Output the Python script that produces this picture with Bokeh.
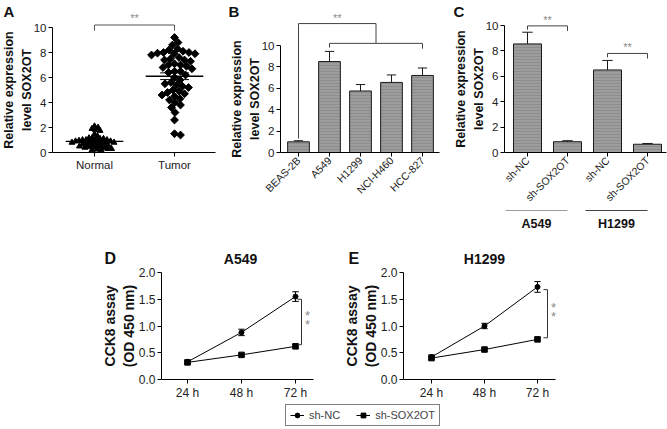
import math
import numpy as np
from bokeh.plotting import figure
from bokeh.models import (Range1d, FixedTicker, Legend, LegendItem, Spacer,
                          NumeralTickFormatter)
from bokeh.layouts import row, column
from bokeh.core.properties import value
from bokeh.embed import file_html
from bokeh.resources import INLINE

FONT = "Liberation Sans"

# ---------------- data ----------------
tissue_groups = ["Normal", "Tumor"]
normal_vals = [2.1, 2.0, 1.9, 1.8, 1.75, 1.45, 1.3, 1.2, 1.15, 1.1, 1.1, 1.05, 1.0, 1.0,
               1.0, 0.95, 0.9, 0.9, 0.9, 0.85, 0.85, 0.8, 0.8, 0.8, 0.75, 0.7, 0.7, 0.65,
               0.6, 0.6, 0.55, 0.5, 0.5, 0.45, 0.4, 0.4, 0.35, 0.3, 0.3, 0.25, 0.2, 0.2]
tumor_vals = [9.2, 8.8, 8.6, 8.3, 8.2, 8.1, 8.0, 8.0, 7.95, 7.9, 7.9, 7.8, 7.6, 7.5, 7.4,
              7.4, 7.3, 7.1, 7.0, 7.0, 6.9, 6.8, 6.7, 6.5, 6.5, 6.4, 6.2, 6.0, 5.8, 5.6,
              5.5, 5.4, 5.3, 5.2, 5.0, 4.9, 4.8, 4.7, 4.6, 4.5, 4.3, 4.2, 4.0, 3.8, 3.6,
              3.2, 2.6, 1.5, 1.4]

cell_lines = ["BEAS-2B", "A549", "H1299", "NCI-H460", "HCC-827"]
cell_expr = [1.0, 8.5, 5.75, 6.55, 7.2]
cell_err = [0.1, 0.95, 0.6, 0.7, 0.7]

kd_labels = ["sh-NC", "sh-SOX2OT", "sh-NC", "sh-SOX2OT"]
kd_groups = ["A549", "H1299"]
kd_expr = [8.55, 0.85, 6.5, 0.65]
kd_err = [0.92, 0.08, 0.75, 0.06]

times = ["24 h", "48 h", "72 h"]
a549_nc = [0.33, 0.88, 1.55]
a549_nc_err = [0.03, 0.06, 0.09]
a549_sh = [0.32, 0.46, 0.62]
a549_sh_err = [0.02, 0.02, 0.04]
h1299_nc = [0.42, 1.00, 1.73]
h1299_nc_err = [0.04, 0.05, 0.10]
h1299_sh = [0.40, 0.56, 0.75]
h1299_sh_err = [0.03, 0.03, 0.04]

series_names = ["sh-NC", "sh-SOX2OT"]
panel_letters = ["A", "B", "C", "D", "E"]

# ---------------- helpers ----------------
BAR_FILL = "#9d9d9d"
DARK = "#1a1a1a"
STAR = "#8a8a8a"


class Geo:
    """Pixel <-> data mapping of one panel (the frame covers the whole figure)."""

    def __init__(self, W, H, ppx, ppy, anchor_px, anchor_x, zero_py):
        self.W, self.H = W, H
        self.ppx, self.ppy = ppx, ppy
        self.x0 = anchor_x - anchor_px / ppx
        self.zero_py = zero_py

    def X(self, px):
        return self.x0 + px / self.ppx

    def Y(self, py):
        return (self.zero_py - py) / self.ppy


def make_fig(g, axis_px, axis_end_px, ytop):
    p = figure(width=g.W, height=g.H, x_range=Range1d(g.X(0), g.X(g.W)),
               y_range=Range1d(g.Y(g.H), g.Y(0)), min_border_left=0, min_border_top=0,
               min_border_right=0, min_border_bottom=0, output_backend="svg",
               toolbar_location=None)
    p.outline_line_color = None
    p.grid.visible = False
    p.background_fill_color = "white"
    p.border_fill_color = "white"
    for ax in (p.xaxis[0], p.yaxis[0]):
        ax.axis_line_color = "black"
        ax.axis_line_width = 1
        ax.major_tick_line_color = "black"
        ax.major_tick_in = 0
        ax.major_tick_out = 4
        ax.minor_tick_line_color = None
        ax.major_label_text_font = FONT
        ax.major_label_text_font_size = "11.5px"
        ax.major_label_text_color = "#222222"
        ax.major_label_standoff = 2
        ax.axis_label_text_font = FONT
        ax.axis_label_text_font_style = "bold"
        ax.axis_label_text_color = "#111111"
        ax.axis_label_standoff = 1
    p.yaxis.fixed_location = g.X(axis_px)
    p.xaxis.fixed_location = 0
    p.yaxis.bounds = (0, ytop)
    p.xaxis.bounds = (g.X(axis_px), g.X(axis_end_px))
    return p


def add_text(p, x, y, text, size, bold=False, color="#111111", align="center"):
    p.text(x=[x], y=[y], text=[text], text_font=value(FONT), text_font_size=size,
           text_font_style="bold" if bold else "normal", text_color=color,
           text_align=align, text_baseline="middle")


def swarm_offsets(vals, ppy, ppx, dia):
    placed = []
    offs = []
    for v in vals:
        yp = v * ppy
        k = 0
        while True:
            step = ((k + 1) // 2) * 0.5
            xp = step if k % 2 == 1 else -step
            if all((xp - qx) ** 2 + (yp - qy) ** 2 >= dia * dia for qx, qy in placed):
                break
            k += 1
        placed.append((xp, yp))
        offs.append(xp / ppx)
    return offs


def up_errorbars(p, xs, tops, errs, cap):
    ends = [t + e for t, e in zip(tops, errs)]
    p.segment(x0=xs, y0=tops, x1=xs, y1=ends, line_color=DARK, line_width=1)
    p.segment(x0=[x - cap for x in xs], y0=ends, x1=[x + cap for x in xs], y1=ends,
              line_color=DARK, line_width=1)


TOP_YLABEL = "Relative expression\nlevel SOX2OT"


def top_yaxis(p):
    p.yaxis.ticker = FixedTicker(ticks=[0, 2, 4, 6, 8, 10])
    p.yaxis.axis_label = TOP_YLABEL
    p.yaxis.axis_label_text_font_size = "12.5px"
    p.yaxis.axis_label_text_line_height = 1.3
    p.yaxis.axis_label_standoff = -3


TOP_H = 232
ZERO_TOP = 152

# ---------------- panel A ----------------
gA = Geo(226, TOP_H, 80, 12.5, 94, 1, ZERO_TOP)
pA = make_fig(gA, 52, 215, 10)
n_off = swarm_offsets(normal_vals, gA.ppy, gA.ppx, 3.5)
t_off = swarm_offsets(tumor_vals, gA.ppy, gA.ppx, 5.9)
pA.scatter(x=[1 + o for o in n_off], y=normal_vals, marker="triangle", size=6,
           color="black")
pA.scatter(x=[2 + o for o in t_off], y=tumor_vals, marker="square", angle=math.pi / 4,
           size=5.5, color="black")
means = [float(np.mean(normal_vals)), float(np.mean(tumor_vals))]
sems = [float(np.std(normal_vals, ddof=1) / math.sqrt(len(normal_vals))),
        float(np.std(tumor_vals, ddof=1) / math.sqrt(len(tumor_vals)))]
gx = [1, 2]
pA.segment(x0=[g - 0.36 for g in gx], y0=means, x1=[g + 0.36 for g in gx], y1=means,
           line_color="black", line_width=1.3)
pA.segment(x0=gx, y0=[m - s for m, s in zip(means, sems)], x1=gx,
           y1=[m + s for m, s in zip(means, sems)], line_color="black", line_width=1)
for sign in (-1, 1):
    pA.segment(x0=[g - 0.18 for g in gx], y0=[m + sign * s for m, s in zip(means, sems)],
               x1=[g + 0.18 for g in gx], y1=[m + sign * s for m, s in zip(means, sems)],
               line_color="black", line_width=1)
br_y = max(tumor_vals) + 1.0
pA.multi_line(xs=[[1, 1, 2, 2]], ys=[[br_y - 0.45, br_y, br_y, br_y - 0.45]],
              line_color="#555555", line_width=1)
add_text(pA, 1.5, br_y + 0.55, "**", "11px", color=STAR)
pA.xaxis.ticker = FixedTicker(ticks=gx)
pA.xaxis.major_label_overrides = {1: tissue_groups[0], 2: tissue_groups[1]}
top_yaxis(pA)
add_text(pA, gA.X(3), gA.Y(11), panel_letters[0], "15px", bold=True, align="left")

# ---------------- panel B ----------------
gB = Geo(222, TOP_H, 31, 10.7, 72, 1, ZERO_TOP)
pB = make_fig(gB, 54, 213, 10)
bx = list(range(1, len(cell_lines) + 1))
pB.vbar(x=bx, top=cell_expr, width=0.7, fill_color=BAR_FILL, line_color=DARK,
        line_width=1, hatch_pattern="horizontal_line", hatch_scale=3,
        hatch_color="#7a7a7a", hatch_alpha=0.45, hatch_weight=1)
up_errorbars(pB, bx, cell_expr, cell_err, 0.15)
top_b = max(e + r for e, r in zip(cell_expr, cell_err)) + 2.6
low_b = max(e + r for e, r in zip(cell_expr, cell_err)) + 0.75
pB.multi_line(xs=[[1, 1, 3.5, 3.5], [2, 2, bx[-1], bx[-1]]],
              ys=[[cell_expr[0] + 0.3, top_b, top_b, low_b],
                  [low_b - 0.4, low_b, low_b, low_b - 0.5]],
              line_color="#444444", line_width=1)
add_text(pB, 2.25, top_b + 0.55, "**", "11px", color=STAR)
pB.xaxis.ticker = FixedTicker(ticks=bx)
pB.xaxis.major_label_overrides = {i: n for i, n in zip(bx, cell_lines)}
pB.xaxis.major_label_orientation = math.pi / 4
pB.xaxis.major_label_text_font_size = "10.5px"
top_yaxis(pB)
add_text(pB, gB.X(2), gB.Y(11), panel_letters[1], "15px", bold=True, align="left")

# ---------------- panel C ----------------
gC = Geo(219, TOP_H, 40, 12.7, 79, 1, ZERO_TOP)
pC = make_fig(gC, 56, 218, 10)
cx = list(range(1, len(kd_labels) + 1))
pC.vbar(x=cx, top=kd_expr, width=0.7, fill_color=BAR_FILL, line_color=DARK,
        line_width=1, hatch_pattern="horizontal_line", hatch_scale=3,
        hatch_color="#7a7a7a", hatch_alpha=0.45, hatch_weight=1)
up_errorbars(pC, cx, kd_expr, kd_err, 0.13)
for k in range(2):
    i0, i1 = 2 * k + 1, 2 * k + 2
    yb = kd_expr[i0 - 1] + kd_err[i0 - 1] + (0.5 if k == 0 else 0.55)
    pC.multi_line(xs=[[i0, i0, i1, i1]], ys=[[yb - 0.3, yb, yb, yb - 0.4]],
                  line_color="#444444", line_width=1)
    add_text(pC, (i0 + i1) / 2, yb + 0.5, "**", "11px", color=STAR)
pC.xaxis.ticker = FixedTicker(ticks=cx)
pC.xaxis.major_label_overrides = {i: n for i, n in zip(cx, kd_labels)}
pC.xaxis.major_label_orientation = math.pi / 4
pC.xaxis.major_label_text_font_size = "10.5px"
top_yaxis(pC)
add_text(pC, gC.X(5), gC.Y(11), panel_letters[2], "15px", bold=True, align="left")
# cell-line group labels under the knock-down bars
g_start = [cx[0] - 0.55, cx[2] - 0.55]
g_end = [cx[1], cx[3]]
pC.segment(x0=g_start, y0=[gC.Y(210)] * 2, x1=g_end, y1=[gC.Y(210)] * 2,
           line_color=["#9a9a9a", "#444444"], line_width=1)
pC.text(x=[(a + b) / 2 for a, b in zip(g_start, g_end)], y=[gC.Y(223)] * 2, text=kd_groups,
        text_font=value(FONT), text_font_size="12.5px", text_font_style="bold",
        text_align="center", text_baseline="middle", text_color="#111111")


# ---------------- panels D / E ----------------
BOT_H = 169


def growth_panel(W, axis_px, first_px, end_px, ppx, title, title_px, nc, nc_err, sh,
                 sh_err, let_px, let, br_off, star_off):
    g = Geo(W, BOT_H, ppx, 53.5, first_px, 1, 147)
    p = make_fig(g, axis_px, end_px, 2.0)
    xs = [1, 2, 3]
    for vals, errs, mk, sz in ((nc, nc_err, "circle", 5), (sh, sh_err, "square", 5.5)):
        p.line(x=xs, y=vals, line_color="black", line_width=1)
        p.segment(x0=xs, y0=[v - e for v, e in zip(vals, errs)], x1=xs,
                  y1=[v + e for v, e in zip(vals, errs)], line_color="black", line_width=1)
        for sgn in (-1, 1):
            ye = [v + sgn * e for v, e in zip(vals, errs)]
            p.segment(x0=[x - 0.06 for x in xs], y0=ye, x1=[x + 0.06 for x in xs], y1=ye,
                      line_color="black", line_width=1)
        p.scatter(x=xs, y=vals, marker=mk, size=sz, color="black")
    bxp = 3 + br_off / ppx
    ytop = nc[-1] - 0.05
    ybot = sh[-1] + 0.03
    p.multi_line(xs=[[bxp - 4 / ppx, bxp, bxp, bxp - 4 / ppx]],
                 ys=[[ytop, ytop, ybot, ybot]], line_color="#333333", line_width=1)
    ymid = (ytop + ybot) / 2
    for dy in (-4.5, 4.5):
        add_text(p, 3 + star_off / ppx, ymid + dy / g.ppy + 2 / g.ppy, "*", "13px",
                 color=STAR)
    p.xaxis.ticker = FixedTicker(ticks=xs)
    p.xaxis.major_label_overrides = {i: t for i, t in zip(xs, times)}
    p.xaxis.major_label_text_font_size = "12px"
    p.yaxis.ticker = FixedTicker(ticks=[0, 0.5, 1.0, 1.5, 2.0])
    p.yaxis.formatter = NumeralTickFormatter(format="0.0")
    p.yaxis.major_label_text_font_size = "12px"
    p.yaxis.axis_label = "CCK8 assay\n(OD 450 nm)"
    p.yaxis.axis_label_text_font_size = "14px"
    p.yaxis.axis_label_text_line_height = 1.2
    p.yaxis.axis_label_standoff = -1
    add_text(p, g.X(title_px), g.Y(26), title, "14px", bold=True)
    add_text(p, g.X(let_px), g.Y(26), let, "16px", bold=True, align="left")
    return p


pD = growth_panel(237, 66, 92, 218, 54, kd_groups[0], 145, a549_nc, a549_nc_err,
                  a549_sh, a549_sh_err, 9, panel_letters[3], 6, 12)
pE = growth_panel(248, 71, 99, 223, 53, kd_groups[1], 152, h1299_nc, h1299_nc_err,
                  h1299_sh, h1299_sh_err, 16, panel_letters[4], 10, 16)

# ---------------- legend ----------------
pL = figure(width=660, height=27, x_range=Range1d(0, 1), y_range=Range1d(0, 1),
            min_border=0, output_backend="svg", toolbar_location=None)
pL.axis.visible = False
pL.grid.visible = False
pL.outline_line_color = None
far = [-5, -4]
r1 = pL.line(x=far, y=far, line_color="black", line_width=1)
r2 = pL.scatter(x=far, y=far, marker="circle", size=5, color="black")
r3 = pL.line(x=far, y=far, line_color="black", line_width=1)
r4 = pL.scatter(x=far, y=far, marker="square", size=5, color="black")
legend = Legend(items=[LegendItem(label=series_names[0], renderers=[r1, r2]),
                       LegendItem(label=series_names[1], renderers=[r3, r4])],
                orientation="horizontal", location=(285, 2), border_line_color="black",
                border_line_width=1, background_fill_color="white", padding=4,
                spacing=16, glyph_width=14, glyph_height=12, label_standoff=5,
                label_text_font=FONT, label_text_font_size="11px", margin=0,
                label_height=12)
pL.add_layout(legend)

layout = column(
    row(pA, pB, pC, spacing=0),
    row(Spacer(width=95, height=BOT_H), pD, pE, spacing=0),
    pL,
    spacing=0,
)

open("out.html", "w").write(file_html(layout, INLINE))
